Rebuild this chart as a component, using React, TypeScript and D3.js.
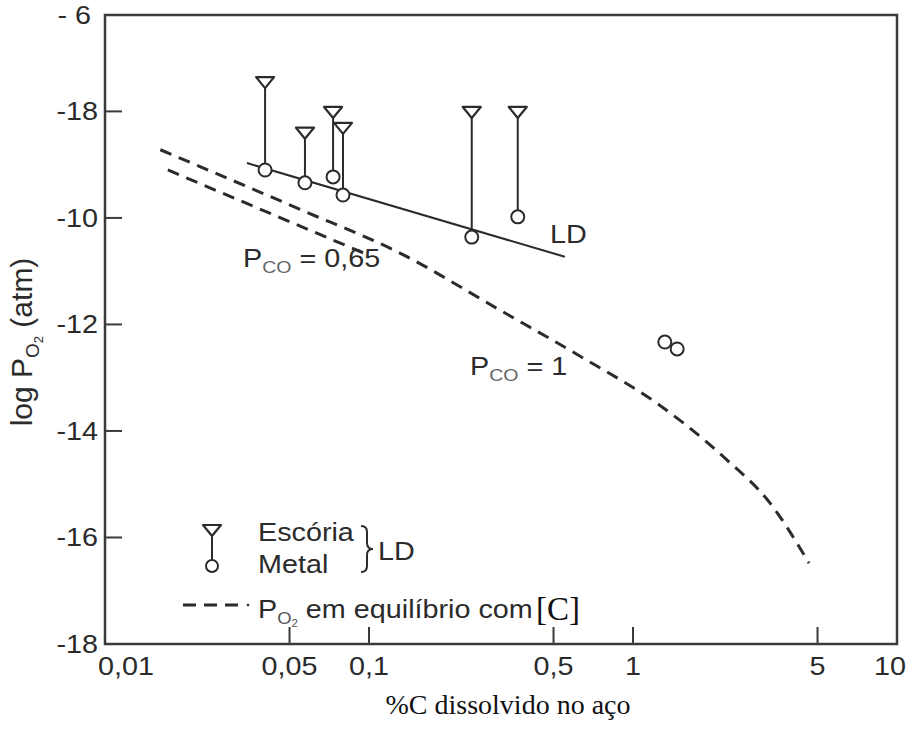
import React from 'react';
import * as d3 from 'd3';

// ---- data ----
const xTickValues = [0.01, 0.05, 0.1, 0.5, 1, 5, 10];
const xTickLabels = ['0,01', '0,05', '0,1', '0,5', '1', '5', '10'];
const yTickValues = [-6, -8, -10, -12, -14, -16, -18];
const yTickLabels = ['- 6', '-18', '-10', '-12', '-14', '-16', '-18'];

// LD heats: %C, log PO2 in slag (Escória) and metal
const ldCarbon = [0.0404, 0.0572, 0.0731, 0.0797, 0.245, 0.366];
const escoriaLogPO2 = [-7.45, -8.4, -8.01, -8.31, -8.01, -8.01];
const metalLogPO2 = [-9.1, -9.34, -9.23, -9.57, -10.36, -9.98];

// isolated metal points
const extraCarbon = [1.32, 1.47];
const extraLogPO2 = [-12.33, -12.46];

// LD trend line
const ldLineCarbon = [0.0345, 0.552];
const ldLineLogPO2 = [-8.97, -10.73];

// equilibrium curves
const pco1Carbon = [0.0162, 0.0548, 0.131, 0.313, 0.647, 1.24, 2.23, 3.3, 4.64];
const pco1LogPO2 = [-8.72, -9.84, -10.66, -11.73, -12.63, -13.49, -14.51, -15.35, -16.48];
const pco065Carbon = [0.0173, 0.0966];
const pco065LogPO2 = [-9.1, -10.67];

const SANS = "'Liberation Sans', Arial, Helvetica, sans-serif";
const SERIF = "'Liberation Serif', 'Times New Roman', serif";
const INK = '#2b2b2b';
const SX = 1.15;

function ST({ x, y, size = 25, anchor = 'start', fill = INK, children }: any) {
  return (
    <text
      transform={`translate(${x},${y}) scale(${SX},1)`}
      fontSize={size}
      textAnchor={anchor}
      fontFamily={SANS}
      fill={fill}
    >
      {children}
    </text>
  );
}

export default function App() {
  const W = 921;
  const H = 729;
  const left = 105, right = 897, top = 15, bottom = 644;

  const x = d3.scaleLog().domain([0.01, 10]).range([left, right]);
  const y = d3.scaleLinear().domain([-18, -6.19]).range([bottom, top]);

  const line = d3
    .line<[number, number]>()
    .x((d) => x(d[0]))
    .y((d) => y(d[1]));
  const curve = d3
    .line<[number, number]>()
    .x((d) => x(d[0]))
    .y((d) => y(d[1]))
    .curve(d3.curveMonotoneX);

  const pco1 = pco1Carbon.map((c, i) => [c, pco1LogPO2[i]] as [number, number]);
  const pco065 = pco065Carbon.map((c, i) => [c, pco065LogPO2[i]] as [number, number]);
  const ld = ldLineCarbon.map((c, i) => [c, ldLineLogPO2[i]] as [number, number]);

  const tri = (cx: number, cy: number) =>
    `M${cx - 9},${cy - 5}L${cx + 9},${cy - 5}L${cx},${cy + 6}Z`;

  const tickLen = 17;

  return (
    <svg
      width={W}
      height={H}
      style={{ position: 'absolute', left: 0, top: 0, background: '#fff' }}
    >
      <rect x={0} y={0} width={W} height={H} fill="#fff" />

      {/* equilibrium curves */}
      <path d={curve(pco1) || ''} fill="none" stroke={INK} strokeWidth={3} strokeDasharray="12 8" />
      <path d={line(pco065) || ''} fill="none" stroke={INK} strokeWidth={3} strokeDasharray="12 8" />

      {/* LD line */}
      <path d={line(ld) || ''} fill="none" stroke={INK} strokeWidth={2} />

      {/* LD stems, triangles and circles */}
      {ldCarbon.map((c, i) => {
        const cx = x(c);
        const ty = y(escoriaLogPO2[i]);
        const my = y(metalLogPO2[i]);
        return (
          <g key={i}>
            <line x1={cx} x2={cx} y1={ty + 6} y2={my - 6.5} stroke={INK} strokeWidth={2} />
            <path d={tri(cx, ty)} fill="#fff" stroke={INK} strokeWidth={2.2} strokeLinejoin="round" />
            <circle cx={cx} cy={my} r={6.5} fill="#fff" stroke={INK} strokeWidth={2} />
          </g>
        );
      })}
      {extraCarbon.map((c, i) => (
        <circle key={i} cx={x(c)} cy={y(extraLogPO2[i])} r={6.5} fill="none" stroke={INK} strokeWidth={2} />
      ))}

      {/* frame */}
      <rect x={left} y={top} width={right - left} height={bottom - top} fill="none" stroke="#3a3a3a" strokeWidth={2.5} />

      {/* x ticks */}
      {xTickValues.map((v, i) => {
        const px = x(v);
        const inner = i > 0 && i < xTickValues.length - 1;
        const lx = i === 0 ? px + 21 : i === xTickValues.length - 1 ? px - 7 : px;
        return (
          <g key={'xt' + i}>
            {inner && <line x1={px} x2={px} y1={bottom} y2={bottom - tickLen} stroke="#3a3a3a" strokeWidth={2} />}
            <ST x={lx} y={675} anchor="middle">{xTickLabels[i]}</ST>
          </g>
        );
      })}

      {/* y ticks */}
      {yTickValues.map((v, i) => {
        const py = Math.max(y(v), top);
        const inner = v > -18 && v < -6;
        const isTop = v === -6;
        return (
          <g key={'yt' + i}>
            {inner && <line x1={left} x2={left + tickLen} y1={py} y2={py} stroke="#3a3a3a" strokeWidth={2} />}
            <ST x={isTop ? 91 : 98} y={py + 9} anchor="end">{yTickLabels[i]}</ST>
          </g>
        );
      })}

      {/* axis titles */}
      <text transform="translate(32,342) rotate(-90)" textAnchor="middle" fontFamily={SANS} fontSize={30} fill={INK}>
        log P<tspan fontSize={19} dy={7}>O</tspan>
        <tspan fontSize={13} dy={4}>2</tspan>
        <tspan dy={-11}> (atm)</tspan>
      </text>
      <text x={508} y={714} textAnchor="middle" fontFamily={SERIF} fontSize={28} fill="#111">
        %C dissolvido no aço
      </text>

      {/* annotations */}
      <ST x={550} y={243}>LD</ST>
      <ST x={243} y={267}>
        P<tspan fontSize={17} dy={6} fill="#666">CO</tspan>
        <tspan dy={-6}> = 0,65</tspan>
      </ST>
      <ST x={470} y={375}>
        P<tspan fontSize={17} dy={6} fill="#666">CO</tspan>
        <tspan dy={-6}> = 1</tspan>
      </ST>

      {/* legend */}
      <g>
        <line x1={212} x2={212} y1={537} y2={560} stroke={INK} strokeWidth={2} />
        <path d={tri(212, 530)} fill="#fff" stroke={INK} strokeWidth={2.2} strokeLinejoin="round" />
        <circle cx={212} cy={566} r={6} fill="#fff" stroke={INK} strokeWidth={2} />
        <ST x={258} y={541}>Escória</ST>
        <ST x={258} y={573}>Metal</ST>
        <path
          d="M361,526 Q367,526 367,532 L367,543 Q367,549 373,549 Q367,549 367,555 L367,566 Q367,572 361,572"
          fill="none"
          stroke={INK}
          strokeWidth={2}
        />
        <ST x={378} y={560}>LD</ST>

        <line x1={183} x2={238} y1={605} y2={605} stroke={INK} strokeWidth={3} strokeDasharray="13 8" />
        <circle cx={248} cy={605} r={1.3} fill={INK} />
        <ST x={258} y={618}>
          P<tspan fontSize={16} dy={6} fill="#555">O</tspan>
          <tspan fontSize={10} dy={3} fill="#555">2</tspan>
          <tspan dy={-9}> em equilíbrio com</tspan>
        </ST>
        <text x={536} y={620} fontFamily={SERIF} fontSize={33} fill="#111">[C]</text>
      </g>
    </svg>
  );
}
